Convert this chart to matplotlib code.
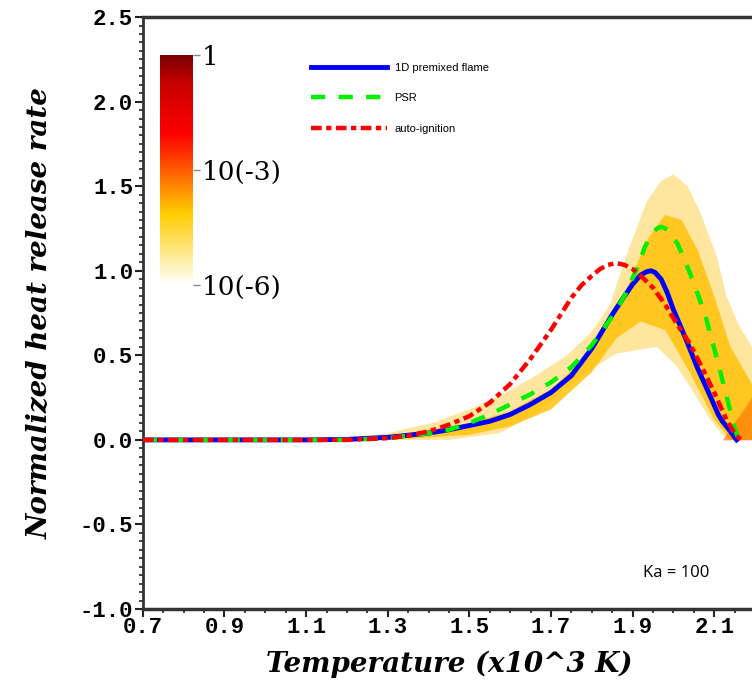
import matplotlib
matplotlib.use("Agg")
import matplotlib.pyplot as plt
import numpy as np
from matplotlib.colors import LinearSegmentedColormap, LogNorm
from matplotlib.cm import ScalarMappable
from matplotlib.ticker import MultipleLocator, FormatStrFormatter

# 1D premixed flame
T_flame = [0.70, 1.10, 1.20, 1.30, 1.40, 1.45, 1.50, 1.55, 1.60, 1.65, 1.70, 1.75, 1.80,
           1.85, 1.88, 1.90, 1.92, 1.935, 1.945, 1.955, 1.97, 1.985, 2.00, 2.03, 2.06,
           2.09, 2.11, 2.12, 2.14, 2.155]
hrr_flame = [0.0, 0.0, 0.003, 0.015, 0.04, 0.06, 0.085, 0.11, 0.15, 0.21, 0.28, 0.38, 0.54,
             0.74, 0.85, 0.92, 0.975, 0.995, 1.0, 0.99, 0.95, 0.87, 0.77, 0.60, 0.42,
             0.26, 0.15, 0.11, 0.05, 0.0]

# PSR
T_psr = [0.70, 1.20, 1.30, 1.40, 1.45, 1.50, 1.55, 1.60, 1.65, 1.70, 1.75, 1.80, 1.85, 1.88,
         1.91, 1.93, 1.945, 1.96, 1.97, 1.98, 1.99, 2.01, 2.03, 2.05, 2.08, 2.11, 2.13,
         2.15, 2.16]
hrr_psr = [0.0, 0.0, 0.01, 0.04, 0.06, 0.10, 0.15, 0.21, 0.27, 0.34, 0.43, 0.56, 0.73, 0.85,
           1.01, 1.14, 1.21, 1.25, 1.26, 1.25, 1.23, 1.16, 1.05, 0.93, 0.72, 0.45, 0.26,
           0.07, 0.0]

# auto-ignition
T_ign = [0.70, 1.20, 1.30, 1.35, 1.40, 1.45, 1.50, 1.55, 1.60, 1.65, 1.70, 1.725, 1.75,
         1.775, 1.80, 1.82, 1.84, 1.86, 1.88, 1.90, 1.92, 1.95, 1.98, 2.01, 2.04, 2.07,
         2.10, 2.13, 2.15, 2.165]
hrr_ign = [0.0, 0.0, 0.01, 0.025, 0.05, 0.09, 0.14, 0.22, 0.33, 0.48, 0.65, 0.745, 0.84,
           0.915, 0.97, 1.01, 1.035, 1.045, 1.035, 1.01, 0.97, 0.90, 0.80, 0.68, 0.57, 0.43,
           0.28, 0.12, 0.04, 0.0]

# DNS scatter cloud, outer envelope
T_cloud_hi = [1.15, 1.30, 1.41, 1.50, 1.575, 1.656, 1.74, 1.80, 1.845, 1.886, 1.935, 1.97,
              2.00, 2.035, 2.065, 2.107, 2.13, 2.16, 2.20]
cloud_hi = [0.0, 0.04, 0.10, 0.18, 0.26, 0.37, 0.50, 0.64, 0.80, 1.10, 1.41, 1.53,
            1.57, 1.50, 1.35, 1.08, 0.85, 0.68, 0.52]
T_cloud_lo = [1.15, 1.45, 1.575, 1.66, 1.74, 1.80, 1.86, 1.96, 2.01, 2.05, 2.09, 2.13, 2.20]
cloud_lo = [0.0, 0.0, 0.04, 0.15, 0.31, 0.42, 0.51, 0.55, 0.43, 0.28, 0.12, 0.0, 0.0]

# dense core of the cloud
T_core_hi = [1.30, 1.50, 1.60, 1.70, 1.80, 1.86, 1.90, 1.94, 1.98, 2.02, 2.06, 2.10, 2.14, 2.20]
core_hi = [0.02, 0.10, 0.17, 0.30, 0.52, 0.75, 0.98, 1.20, 1.33, 1.30, 1.12, 0.85, 0.55, 0.30]
T_core_lo = [1.30, 1.50, 1.60, 1.70, 1.80, 1.86, 1.92, 1.98, 2.04, 2.10, 2.14, 2.20]
core_lo = [0.0, 0.03, 0.08, 0.18, 0.40, 0.60, 0.70, 0.65, 0.40, 0.12, 0.0, 0.0]

# hot corner near the burnt side
T_hot = [2.12, 2.16, 2.20]
hot_hi = [0.0, 0.14, 0.28]

x_ticks = [0.7, 0.9, 1.1, 1.3, 1.5, 1.7, 1.9, 2.1]

cbar_ticks = [1e-6, 1e-3, 1.0]
cbar_labels = ["10(-6)", "10(-3)", "1"]

legend_labels = ["1D premixed flame", "PSR", "auto-ignition"]

fig = plt.figure(figsize=(7.52, 6.82), dpi=100)
ax = fig.add_axes([0.190, 0.107, 0.814, 0.868])

ax.fill(np.concatenate([T_cloud_hi, T_cloud_lo[::-1]]),
        np.concatenate([cloud_hi, cloud_lo[::-1]]),
        color="#FFDA6A", alpha=0.65, lw=0, zorder=1)
ax.fill(np.concatenate([T_core_hi, T_core_lo[::-1]]),
        np.concatenate([core_hi, core_lo[::-1]]),
        color="#FFC000", alpha=0.8, lw=0, zorder=1)
ax.fill_between(T_hot, 0, hot_hi, color="#FF6A00", alpha=0.6, lw=0, zorder=1)

l1, = ax.plot(T_flame, hrr_flame, color="#0000FF", lw=3.5, zorder=3)
l2, = ax.plot(T_psr, hrr_psr, color="#00F000", lw=3.2, dashes=(3.2, 3.0), zorder=4)
l3, = ax.plot(T_ign, hrr_ign, color="#FF0000", lw=3.2, dashes=(2.4, 1.0, 1.2, 1.0), zorder=5)

ax.set_xlim(0.7, 2.2)
ax.set_ylim(-1.0, 2.5)
ax.set_xticks(x_ticks)
ax.xaxis.set_minor_locator(MultipleLocator(0.05))
ax.yaxis.set_major_locator(MultipleLocator(0.5))
ax.yaxis.set_minor_locator(MultipleLocator(0.05))
ax.xaxis.set_major_formatter(FormatStrFormatter("%.1f"))
ax.yaxis.set_major_formatter(FormatStrFormatter("%.1f"))

ax.tick_params(which="major", direction="out", length=6, width=1.5, color="#222222", pad=1)
ax.tick_params(which="minor", direction="out", length=3, width=1.2, color="#222222")
ax.tick_params(axis="x", which="major", pad=0)
for lab in ax.get_xticklabels() + ax.get_yticklabels():
    lab.set_fontfamily("Liberation Mono")
    lab.set_fontweight("bold")
    lab.set_fontsize(16)

ax.spines["right"].set_visible(False)
ax.spines["top"].set_linewidth(2.5)
ax.spines["bottom"].set_linewidth(2.5)
ax.spines["left"].set_linewidth(2.0)
for s in ["top", "bottom", "left"]:
    ax.spines[s].set_color("#333333")

lab_font = dict(family="DejaVu Serif", style="italic", weight="bold", size=20)
ax.set_xlabel("Temperature (x10^3 K)", labelpad=9, **lab_font)
ax.set_ylabel("Normalized heat release rate", labelpad=19, **lab_font)

ax.legend([l1, l2, l3], legend_labels, loc="upper left", bbox_to_anchor=(0.275, 0.923),
          frameon=False, prop={"family": "Liberation Sans", "size": 8},
          handlelength=6.8, handletextpad=0.7, labelspacing=1.85,
          borderpad=0, borderaxespad=0)

ax.text(0.871, 0.061, "Ka = 100", transform=ax.transAxes, ha="center", va="center",
        family="Open Sans", fontsize=12)

# colour bar inset
cmap = LinearSegmentedColormap.from_list(
    "hrr", [(0.0, "#FFFFFF"), (0.15, "#FFE680"), (0.31, "#FFCC00"), (0.38, "#FFA500"),
            (0.5, "#FF5A00"), (0.66, "#FF0000"), (0.88, "#C80000"), (1.0, "#780000")])
sm = ScalarMappable(norm=LogNorm(1e-6, 1.0), cmap=cmap)
cax = fig.add_axes([0.213, 0.582, 0.044, 0.337])
cb = fig.colorbar(sm, cax=cax, ticks=cbar_ticks)
cb.outline.set_visible(False)
cb.ax.minorticks_off()
cb.ax.set_yticklabels(cbar_labels)
cb.ax.tick_params(length=5, width=1, color="#888888", pad=1)
for lab in cb.ax.get_yticklabels():
    lab.set_fontfamily("DejaVu Serif")
    lab.set_fontsize(19)

fig.savefig("out.png", dpi=100)
